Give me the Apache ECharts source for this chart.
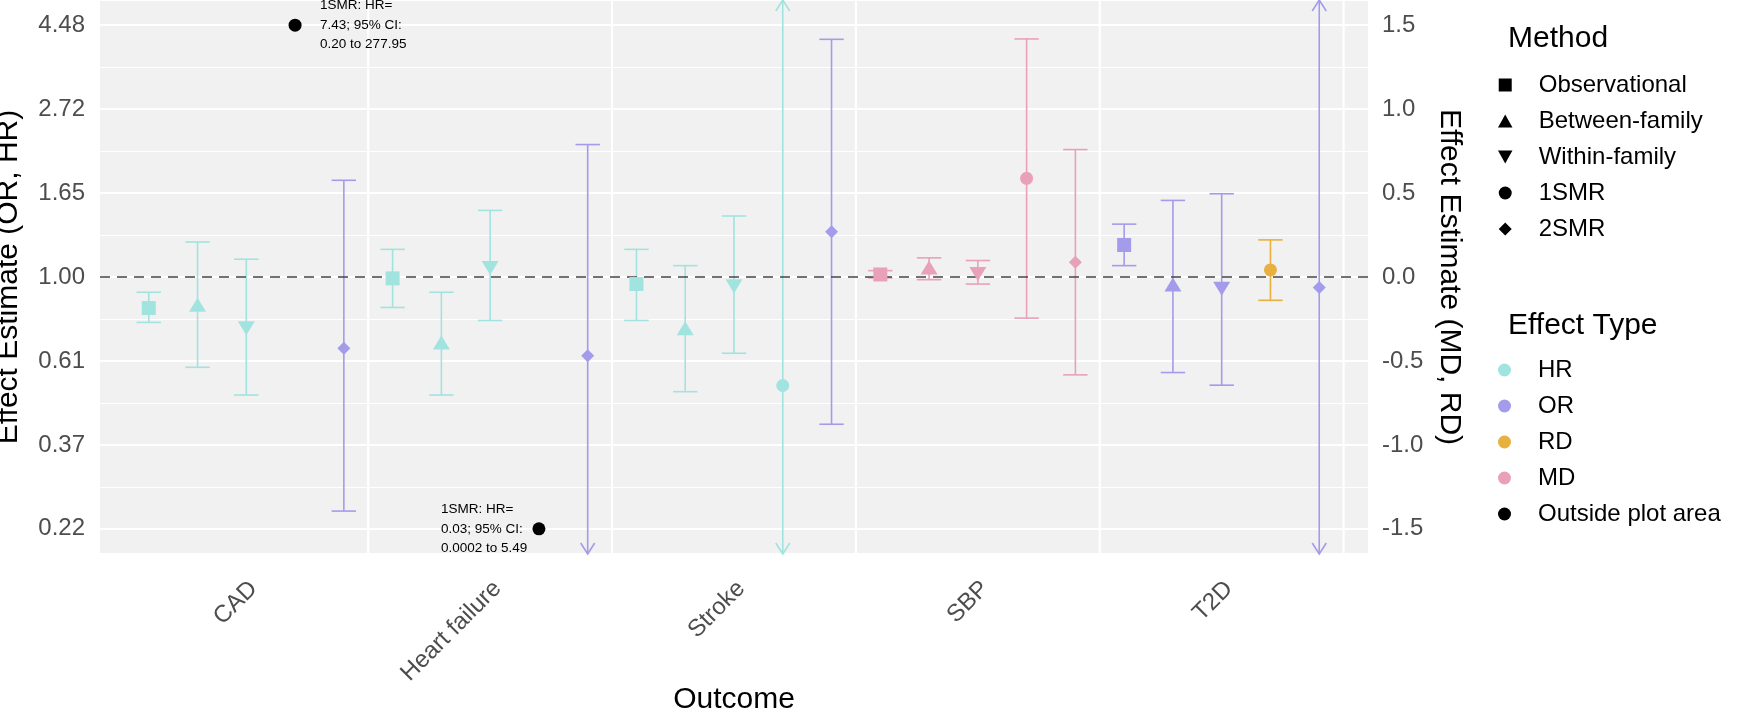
<!DOCTYPE html>
<html><head><meta charset="utf-8">
<script src="https://cdn.jsdelivr.net/npm/echarts@6/dist/echarts.min.js"></script>
<style>html,body{margin:0;padding:0;background:#fff}#c{width:1750px;height:712px}</style>
</head><body><div id="c"></div>
<script>
// ---------------- data ----------------
const outcomes = ['CAD', 'Heart failure', 'Stroke', 'SBP', 'T2D'];
const methods = ['Observational', 'Between-family', 'Within-family', '1SMR', '2SMR'];
const effectTypes = ['HR', 'OR', 'RD', 'MD'];
const ratioTypes = ['HR', 'OR']; // shown on log scale (left axis)

// values per outcome, in method order (ratios on natural scale, MD/RD raw)
const cadType = ['HR', 'HR', 'HR', 'HR', 'OR'];
const cadEst  = [0.831, 0.848, 0.737, 7.43, 0.654];
const cadLo   = [0.763, 0.584, 0.495, 0.20, 0.248];
const cadHi   = [0.913, 1.232, 1.112, 277.95, 1.779];

const hfType = ['HR', 'HR', 'HR', 'HR', 'OR'];
const hfEst  = [0.992, 0.677, 1.055, 0.03, 0.626];
const hfLo   = [0.834, 0.495, 0.772, 0.0002, 0.15];
const hfHi   = [1.179, 0.913, 1.487, 5.49, 2.201];

const strokeType = ['HR', 'HR', 'HR', 'HR', 'OR'];
const strokeEst  = [0.959, 0.737, 0.946, 0.524, 1.309];
const strokeLo   = [0.772, 0.505, 0.635, 0.15, 0.416];
const strokeHi   = [1.179, 1.070, 1.438, 6.0, 4.12];

const sbpType = ['MD', 'MD', 'MD', 'MD', 'MD'];
const sbpEst  = [0.015, 0.056, 0.018, 0.588, 0.088];
const sbpLo   = [-0.005, -0.016, -0.042, -0.245, -0.583];
const sbpHi   = [0.038, 0.114, 0.098, 1.418, 0.759];

const t2dType = ['OR', 'OR', 'OR', 'RD', 'OR'];
const t2dEst  = [1.210, 0.956, 0.933, 0.042, 0.940];
const t2dLo   = [1.070, 0.566, 0.525, -0.139, 0.15];
const t2dHi   = [1.370, 1.578, 1.642, 0.221, 6.5];

const tickValues = [-1.5, -1, -0.5, 0, 0.5, 1, 1.5];
const leftTickLabels = ['0.22', '0.37', '0.61', '1.00', '1.65', '2.72', '4.48'];
const rightTickLabels = ['-1.5', '-1.0', '-0.5', '0.0', '0.5', '1.0', '1.5'];

// ---------------- styles / layout ----------------
const FONT = '"Liberation Sans", Arial, Helvetica, sans-serif';
const typeColors = ['#A1E3DF', '#A49BEA', '#E7B03F', '#E9A1B8'];
const outsideColor = '#000000';
const methodSymbols = ['rect', 'triangle', 'triangle', 'circle', 'diamond'];
const methodRotate = [0, 0, 180, 0, 0];
const methodSizes = [[14, 14], [17, 14], [17, 14], [13, 13], [13, 13]];
const legendIcons = ['path://M0,0H10V10H0Z', 'path://M5,0L10,9L0,9Z', 'path://M0,0L10,0L5,9Z', 'circle', 'path://M5,0L10,5L5,10L0,5Z'];
const yMin = -1.65, yMax = 1.65, xMin = 0.4, xMax = 5.6;
const dodge = 0.2, capWidth = 0.1, outsideY = 1.5, labelShift = 0.03;

const rows = [
  [cadType, cadEst, cadLo, cadHi],
  [hfType, hfEst, hfLo, hfHi],
  [strokeType, strokeEst, strokeLo, strokeHi],
  [sbpType, sbpEst, sbpLo, sbpHi],
  [t2dType, t2dEst, t2dLo, t2dHi]
];
const toPlot = (t, v) => ratioTypes.includes(t) ? Math.log(v) : v;
const fmt = v => v < 0.01 ? v.toPrecision(1) : v.toFixed(2);

const pointsByMethod = methods.map(() => []);
const bars = [];
const outside = [];
rows.forEach(([types, est, lo, hi], oi) => {
  methods.forEach((m, mi) => {
    const x = oi + 1 + (mi - 2) * dodge;
    const t = types[mi];
    const ti = effectTypes.indexOf(t);
    const e = toPlot(t, est[mi]), l = toPlot(t, lo[mi]), h = toPlot(t, hi[mi]);
    if (e > yMax || e < yMin) {
      const top = e > 0;
      outside.push({
        value: [x, top ? outsideY : -outsideY],
        label: {
          formatter: m + ': ' + t + '=\n' + fmt(est[mi]) + '; 95% CI:\n' + fmt(lo[mi]) + ' to ' + fmt(hi[mi]),
          position: top ? [31.5, 6.5] : [-91.5, 6.5]
        }
      });
    } else {
      bars.push([x, l, h, ti]);
      pointsByMethod[mi].push({ value: [x, e], itemStyle: { color: typeColors[ti], opacity: 1 } });
    }
  });
});
const separators = outcomes.map((_, i) => [i + 1.5]);

const chart = echarts.init(document.getElementById('c'));
const axisText = { fontFamily: FONT, fontSize: 24, color: '#4D4D4D' };
const titleText = { fontFamily: FONT, fontSize: 30, color: '#000', fontWeight: 'normal' };

const series = [
  {
    type: 'custom', name: 'sep', z: 1, silent: true,
    data: separators,
    renderItem: (p, api) => {
      const a = api.coord([api.value(0), yMin]), b = api.coord([api.value(0), yMax]);
      return { type: 'line', shape: { x1: a[0], y1: a[1], x2: b[0], y2: b[1] }, style: { stroke: '#FFFFFF', lineWidth: 2.2 } };
    },
    markLine: {
      silent: true, symbol: 'none', label: { show: false },
      lineStyle: { type: [10, 7], color: '#444444', width: 1.6 },
      data: [{ yAxis: 0 }]
    }
  },
  {
    type: 'custom', name: 'ci', z: 3, silent: true,
    data: bars,
    renderItem: (p, api) => {
      const x = api.value(0), lo = api.value(1), hi = api.value(2);
      const col = typeColors[api.value(3)];
      const pl = api.coord([x, Math.max(lo, yMin)]);
      const ph = api.coord([x, Math.min(hi, yMax)]);
      const half = api.size([capWidth, 0])[0] / 2;
      const st = { stroke: col, lineWidth: 1.6, fill: null };
      const ch = [{ type: 'line', shape: { x1: pl[0], y1: pl[1], x2: ph[0], y2: ph[1] }, style: st }];
      if (lo >= yMin) ch.push({ type: 'line', shape: { x1: pl[0] - half, y1: pl[1], x2: pl[0] + half, y2: pl[1] }, style: st });
      else ch.push({ type: 'polyline', shape: { points: [[pl[0] - 7, pl[1] - 11], [pl[0], pl[1]], [pl[0] + 7, pl[1] - 11]] }, style: st });
      if (hi <= yMax) ch.push({ type: 'line', shape: { x1: ph[0] - half, y1: ph[1], x2: ph[0] + half, y2: ph[1] }, style: st });
      else ch.push({ type: 'polyline', shape: { points: [[ph[0] - 7, ph[1] + 11], [ph[0], ph[1]], [ph[0] + 7, ph[1] + 11]] }, style: st });
      return { type: 'group', children: ch };
    }
  }
];
methods.forEach((m, mi) => {
  series.push({
    type: 'scatter', name: m, z: 5, silent: true,
    symbol: methodSymbols[mi], symbolRotate: methodRotate[mi], symbolSize: methodSizes[mi],
    itemStyle: { color: '#000', opacity: 1 },
    data: pointsByMethod[mi]
  });
});
effectTypes.forEach((t, ti) => {
  series.push({ type: 'scatter', name: t, data: [], itemStyle: { color: typeColors[ti], opacity: 1 } });
});
series.push({
  type: 'scatter', name: 'Outside plot area', z: 5, silent: true,
  symbol: 'circle', symbolSize: 13, itemStyle: { color: outsideColor, opacity: 1 },
  label: { show: true, align: 'left', verticalAlign: 'middle', fontFamily: FONT, fontSize: 13.5, lineHeight: 19.5, color: '#000' },
  data: outside
});

const option = {
  animation: false,
  backgroundColor: '#FFFFFF',
  textStyle: { fontFamily: FONT },
  grid: { left: 100, right: 382, top: 0, bottom: 158, show: true, backgroundColor: '#F1F1F1', borderWidth: 0, containLabel: false, outerBoundsMode: 'none' },
  title: [
    { text: 'Method', left: 1508, top: 24, padding: 0, textStyle: titleText },
    { text: 'Effect Type', left: 1508, top: 310.5, padding: 0, textStyle: titleText }
  ],
  legend: [
    {
      orient: 'vertical', left: 1498, top: 73, padding: 0, itemGap: 12, itemWidth: 57, itemHeight: 13,
      selectedMode: false,
      textStyle: { fontFamily: FONT, fontSize: 24, lineHeight: 24, color: '#000' },
      data: methods.map((m, i) => ({ name: m, icon: legendIcons[i], itemStyle: { color: '#000', borderWidth: 0, opacity: 1 } }))
    },
    {
      orient: 'vertical', left: 1498, top: 358, padding: 0, itemGap: 12, itemWidth: 57, itemHeight: 13,
      selectedMode: false,
      textStyle: { fontFamily: FONT, fontSize: 24, lineHeight: 24, color: '#000' },
      data: effectTypes.map((t, i) => ({ name: t, icon: 'circle', itemStyle: { color: typeColors[i], borderWidth: 0, opacity: 1 } }))
        .concat([{ name: 'Outside plot area', icon: 'circle', itemStyle: { color: outsideColor, borderWidth: 0, opacity: 1 } }])
    }
  ],
  xAxis: [
    {
      type: 'value', min: xMin, max: xMax, position: 'bottom',
      axisLine: { show: false }, axisTick: { show: false }, axisLabel: { show: false }, splitLine: { show: false },
      name: 'Outcome', nameLocation: 'middle', nameGap: 131, nameTextStyle: titleText
    },
    {
      type: 'value', min: Math.round((xMin - labelShift) * 100) / 100, max: Math.round((xMax - labelShift) * 100) / 100,
      interval: 0.01, position: 'bottom', offset: 0,
      axisLine: { show: false }, axisTick: { show: false }, splitLine: { show: false },
      axisLabel: Object.assign({
        rotate: 45, margin: 31,
        formatter: v => { const r = Math.round(v); return (Math.abs(v - r) < 1e-6 && r >= 1 && r <= outcomes.length) ? outcomes[r - 1] : ''; }
      }, axisText)
    }
  ],
  yAxis: [
    {
      type: 'value', min: yMin, max: yMax, position: 'left',
      axisLine: { show: false }, axisTick: { show: false },
      splitLine: { show: true, lineStyle: { color: '#FFFFFF', width: 2.2 } },
      minorTick: { show: false, splitNumber: 2 },
      minorSplitLine: { show: true, lineStyle: { color: '#FFFFFF', width: 1.1 } },
      axisLabel: Object.assign({
        margin: 15,
        formatter: v => { const i = tickValues.findIndex(t => Math.abs(t - v) < 1e-9); return i >= 0 ? leftTickLabels[i] : ''; }
      }, axisText),
      name: 'Effect Estimate (OR, HR)', nameLocation: 'middle', nameRotate: 90, nameGap: 76, nameTextStyle: titleText
    },
    {
      type: 'value', min: yMin, max: yMax, position: 'right',
      axisLine: { show: false }, axisTick: { show: false }, splitLine: { show: false },
      axisLabel: Object.assign({
        margin: 14,
        formatter: v => { const i = tickValues.findIndex(t => Math.abs(t - v) < 1e-9); return i >= 0 ? rightTickLabels[i] : ''; }
      }, axisText),
      name: 'Effect Estimate (MD, RD)', nameLocation: 'middle', nameRotate: -90, nameGap: 65, nameTextStyle: titleText
    }
  ],
  series: series
};
chart.setOption(option);
</script>
</body></html>
